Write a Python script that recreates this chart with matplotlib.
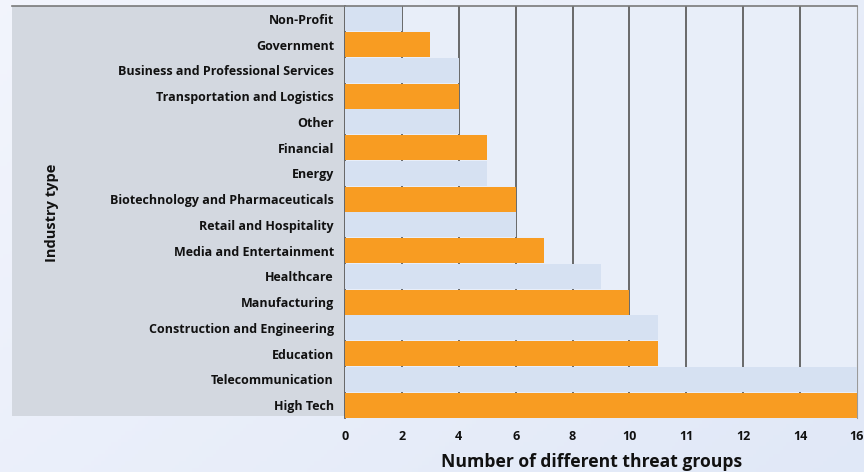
import numpy as np
import matplotlib
matplotlib.use("Agg")
import matplotlib.pyplot as plt
from matplotlib.patches import Rectangle

industries = [
    "Non-Profit", "Government", "Business and Professional Services",
    "Transportation and Logistics", "Other", "Financial", "Energy",
    "Biotechnology and Pharmaceuticals", "Retail and Hospitality",
    "Media and Entertainment", "Healthcare", "Manufacturing",
    "Construction and Engineering", "Education", "Telecommunication", "High Tech",
]
threat_groups = [2, 3, 4, 4, 4, 5, 5, 6, 6, 7, 9, 10, 11, 11, 18, 18]
tick_positions = [0, 2, 4, 6, 8, 10, 12, 14, 16, 18]
tick_labels = ["0", "2", "4", "6", "8", "10", "11", "12", "14", "16"]

plt.rcParams['font.family'] = ['Open Sans', 'DejaVu Sans']

fig = plt.figure(figsize=(8.64, 4.72), dpi=100)

# background gradient
bg = fig.add_axes([0, 0, 1, 1], zorder=-10)
gx = np.linspace(0, 1, 256)
gy = np.linspace(0, 1, 128)
X, Y = np.meshgrid(gx, gy)
top = np.array([0.95, 0.96, 0.99])
bot = np.array([0.88, 0.91, 0.97])
t = (0.6 * X + 0.4 * Y)[..., None]
img = top * (1 - t) + bot * t
bg.imshow(img, aspect='auto', extent=[0, 1, 0, 1], origin='upper')
bg.set_xlim(0, 1); bg.set_ylim(0, 1)
bg.axis('off')

# gray label panel
W, H = 864, 472
panel = Rectangle((12 / W, 1 - 416 / H), (345 - 12) / W, (416 - 6) / H,
                  transform=fig.transFigure, facecolor='#d3d8e0', edgecolor='none', zorder=-5)
fig.patches.append(panel)
fig.add_artist(plt.Line2D([12 / W, 857 / W], [1 - 6 / H, 1 - 6 / H],
                          transform=fig.transFigure, color='#7a7a7a', lw=1.2))

ax = fig.add_axes([345 / W, 1 - 418 / H, (857 - 345) / W, (418 - 6) / H])
ax.set_facecolor('#e8eef9')

colors = ['#d6e1f2' if i % 2 == 0 else '#f89c22' for i in range(len(industries))]
y = np.arange(len(industries))
ax.barh(y, threat_groups, height=0.97, color=colors, zorder=3)
ax.set_ylim(len(industries) - 0.5, -0.5)
ax.set_xlim(0, 18)
ax.set_yticks(y)
ax.set_yticklabels(industries, fontsize=9, fontweight='bold', color='#111111')
ax.set_xticks(tick_positions)
ax.set_xticklabels(tick_labels, fontsize=9, fontweight='bold', color='#111111')
ax.tick_params(axis='both', length=0)
ax.tick_params(axis='x', pad=9)
ax.tick_params(axis='y', pad=8)
for xv in tick_positions[1:-1]:
    ax.axvline(xv, color='#5e5e5e', lw=1.3, zorder=1)
for s in ['top', 'bottom']:
    ax.spines[s].set_visible(False)
ax.spines['left'].set_color('#5e5e5e')
ax.spines['left'].set_linewidth(1.3)
ax.spines['right'].set_color('#9a9a9a')

fig.text(592 / W, 1 - 462 / H, "Number of different threat groups", fontsize=12.6,
         fontweight='bold', color='#111111', ha='center', va='center')
fig.text(52 / W, 1 - 213 / H, "Industry type", rotation=90, fontsize=10.5,
         fontweight='bold', color='#111111', ha='center', va='center')

fig.savefig("out.png", dpi=100)
